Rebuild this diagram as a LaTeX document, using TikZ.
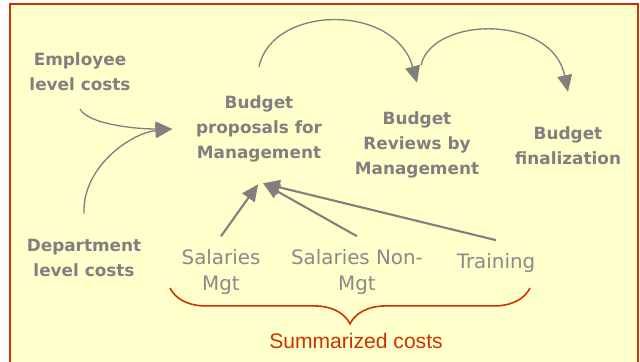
\documentclass[tikz,border=0pt]{standalone}
\usepackage{fontspec}
\setmainfont{DejaVu Sans}
\newfontfamily\captionfont{Liberation Sans}
\usetikzlibrary{arrows.meta,decorations.pathreplacing}
\definecolor{stagegray}{RGB}{128,128,128}
\definecolor{costgray}{RGB}{138,138,138}
\definecolor{framered}{RGB}{204,51,0}
\definecolor{paper}{RGB}{255,255,204}

\begin{document}
\begin{tikzpicture}[x=0.02cm,y=-0.02cm,>={Triangle[length=9.5pt,width=8.5pt]}]
		\tikzstyle{stage}=[align=center, text=stagegray, font=\fontsize{9.6}{14.2}\selectfont\bfseries]
		\tikzstyle{cost}=[align=center, text=costgray, font=\fontsize{11.3}{14.7}\selectfont]
		\tikzstyle{flow}=[->, draw=stagegray, line width=0.75pt]
		\tikzstyle{feed}=[->, draw=stagegray, line width=1.2pt]

		\useasboundingbox (0,0) rectangle (640,362);
		\fill [paper] (10,4) rectangle (638,362);
		\draw [framered, line width=1.2pt] (10,362) -- (10,4) -- (638,4) -- (638,362);

		\node [stage] (emp) at (80,72) {Employee\\level costs};
		\node [stage] (dept) at (84,258) {Department\\level costs};
		\node [stage] (prop) at (259,129) {Budget\\proposals for\\Management};
		\node [stage] (rev) at (417,145) {Budget\\Reviews by\\Management};
		\node [stage] (fin) at (568,146) {Budget\\finalization};

		\node [cost] (salmgt) at (221,272) {Salaries\\Mgt};
		\node [cost] (salnon) at (357,272) {Salaries Non-\\Mgt};
		\node [cost] (train) at (496,263) {Training};
		\node [text=framered, font=\captionfont\fontsize{12}{14}\selectfont] (sum) at (356,341) {Summarized costs};

		\coordinate (entry) at ([xshift=-10pt]prop.west);
		\coordinate (hub a) at ([xshift=-0.5pt,yshift=-9pt]prop.south);
		\coordinate (hub b) at ([xshift=2.3pt,yshift=-8.5pt]prop.south);

		\draw [flow] ([yshift=-6.7pt]emp.south) .. controls +(8,15) and +(-38,0) .. (entry);
		\draw [flow] ([yshift=11pt]dept.north) .. controls +(-2,-47) and +(-41,4) .. (entry);
		\draw [flow] ([yshift=13pt]prop.north) .. controls +(13,-62) and +(-22,-80) .. ([yshift=13pt]rev.north);
		\draw [flow] ([xshift=2.3pt,yshift=23pt]rev.north) .. controls +(11,-49) and +(-16,-78) .. ([yshift=16.5pt]fin.north);

		\draw [feed] ([yshift=4pt]salmgt.north) -- (hub a);
		\draw [feed] ([yshift=4pt]salnon.north) -- (hub b);
		\draw [feed] ([yshift=4pt]train.north) -- (hub b);

		\draw [framered, line width=0.9pt, decorate, decoration={brace, mirror, amplitude=20.4pt}]
			(170,288) -- (530,288);
	\end{tikzpicture}
\end{document}
